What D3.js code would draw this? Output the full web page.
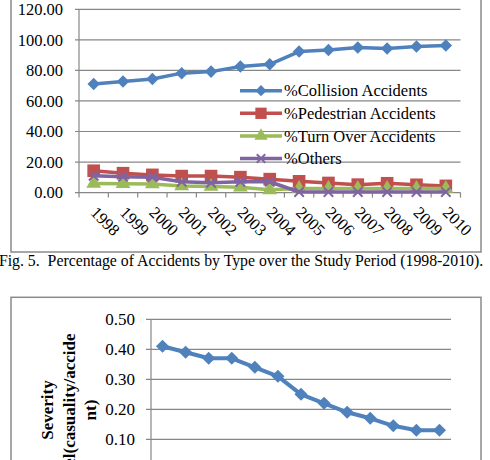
<!DOCTYPE html>
<html>
<head>
<meta charset="utf-8">
<script src="https://cdn.jsdelivr.net/npm/d3@7"></script>
<style>
  body { margin: 0; background: #fff; }
  svg { display: block; font-family: "Liberation Serif", "Times New Roman", serif; }
</style>
</head>
<body>
<div id="chart"></div>
<script>
// top chart: accident type shares (%)
const years = ["1998", "1999", "2000", "2001", "2002", "2003", "2004", "2005", "2006", "2007", "2008", "2009", "2010"];
const collision = [71.1, 72.7, 74.4, 78.2, 79.2, 82.6, 84.0, 92.3, 93.4, 95.0, 94.3, 95.6, 96.3];
const pedestrian = [14.3, 12.7, 11.6, 10.8, 10.8, 10.1, 8.8, 7.4, 6.3, 5.2, 6.1, 5.1, 4.4];
const turnOver = [6.0, 5.8, 5.6, 4.4, 4.0, 3.5, 1.8, 2.7, 2.7, 2.7, 2.7, 2.7, 2.7];
const others = [11.0, 10.4, 10.0, 7.1, 6.4, 7.1, 7.1, 0.4, 0.4, 0.4, 0.4, 0.4, 0.4];
const seriesNames = ["%Collision Accidents", "%Pedestrian Accidents", "%Turn Over Accidents", "%Others"];
const topTicks = [0, 20, 40, 60, 80, 100, 120];

// bottom chart: severity level
const severity = [0.41, 0.39, 0.37, 0.37, 0.34, 0.31, 0.25, 0.22, 0.19, 0.17, 0.145, 0.13, 0.13];
const bottomTicks = [0, 0.1, 0.2, 0.3, 0.4, 0.5];
const severityLabel = ["Severity", "level(casuality/accide", "nt)"];

const caption = "Fig. 5.  Percentage of Accidents by Type over the Study Period (1998-2010).";

const colors = ["#4f81bd", "#c0504d", "#9bbb59", "#8064a2"];
const symbols = [d3.symbolDiamond2, d3.symbolSquare, d3.symbolTriangle, d3.symbolX];
const markerSize = [100, 160, 95, 60];
const gridColor = "#878787";

const svg = d3.select("#chart").append("svg")
  .attr("width", 490)
  .attr("height", 460);

// ---------- top chart ----------
svg.append("rect")
  .attr("x", 11).attr("y", -10)
  .attr("width", 470).attr("height", 262)
  .attr("fill", "none")
  .attr("stroke", "#8a8a8a")
  .attr("stroke-width", 1.5);

const x1 = d3.scaleBand().domain(years).range([79, 460.5]);
const y1 = d3.scaleLinear().domain([0, 120]).range([192.6, 9.3]);

const topG = svg.append("g");

topG.selectAll(".grid1")
  .data(topTicks.slice(1))
  .enter().append("line")
  .attr("x1", 75).attr("x2", 460.5)
  .attr("y1", d => y1(d)).attr("y2", d => y1(d))
  .attr("stroke", gridColor)
  .attr("stroke-width", 1.2);

topG.selectAll(".ylab1")
  .data(topTicks)
  .enter().append("text")
  .attr("x", 63)
  .attr("y", d => y1(d))
  .attr("dy", "0.35em")
  .attr("text-anchor", "end")
  .attr("font-size", 16.5)
  .text(d => d.toFixed(2));

// y axis line
topG.append("line")
  .attr("x1", 79).attr("x2", 79)
  .attr("y1", y1(120)).attr("y2", y1(0))
  .attr("stroke", gridColor).attr("stroke-width", 1.2);

// x axis line + ticks
topG.append("line")
  .attr("x1", 75).attr("x2", 460.5)
  .attr("y1", y1(0)).attr("y2", y1(0))
  .attr("stroke", gridColor).attr("stroke-width", 1.2);

topG.selectAll(".xtick1")
  .data(years.concat(["end"]))
  .enter().append("line")
  .attr("x1", (d, i) => 79 + i * x1.step())
  .attr("x2", (d, i) => 79 + i * x1.step())
  .attr("y1", y1(0)).attr("y2", y1(0) + 5)
  .attr("stroke", gridColor).attr("stroke-width", 1.2);

topG.selectAll(".xlab1")
  .data(years)
  .enter().append("text")
  .attr("transform", d => `translate(${x1(d) + x1.bandwidth() / 2 - 4},${y1(0) + 21}) rotate(45)`)
  .attr("font-size", 16.5)
  .text(d => d);

const seriesData = [collision, pedestrian, turnOver, others];
const line1 = d3.line()
  .x((d, i) => x1(years[i]) + x1.bandwidth() / 2)
  .y(d => y1(d));

// excel draws the first series first, later ones on top
[0, 1, 2, 3].forEach(s => {
  const g = topG.append("g");
  g.append("path")
    .datum(seriesData[s])
    .attr("d", line1)
    .attr("fill", "none")
    .attr("stroke", colors[s])
    .attr("stroke-width", 3.5)
    .attr("stroke-linejoin", "round");
  g.selectAll("path.m")
    .data(seriesData[s])
    .enter().append("path")
    .attr("class", "m")
    .attr("transform", (d, i) => `translate(${x1(years[i]) + x1.bandwidth() / 2},${y1(d)})`)
    .attr("d", d3.symbol().type(symbols[s]).size(markerSize[s]))
    .attr("fill", s === 3 ? "none" : colors[s])
    .attr("stroke", colors[s])
    .attr("stroke-width", s === 3 ? 2 : 0);
});

// legend (no background, gridlines show through)
const legend = topG.append("g");
seriesNames.forEach((name, s) => {
  const ly = 90.7 + s * 22.6;
  legend.append("line")
    .attr("x1", 240).attr("x2", 282)
    .attr("y1", ly).attr("y2", ly)
    .attr("stroke", colors[s]).attr("stroke-width", 3.5);
  legend.append("path")
    .attr("transform", `translate(261,${ly})`)
    .attr("d", d3.symbol().type(symbols[s]).size(markerSize[s] * 0.8))
    .attr("fill", s === 3 ? "none" : colors[s])
    .attr("stroke", colors[s])
    .attr("stroke-width", s === 3 ? 2 : 0);
  legend.append("text")
    .attr("x", 284)
    .attr("y", ly)
    .attr("dy", "0.35em")
    .attr("font-size", 16.5)
    .text(name);
});

// caption
svg.append("text")
  .attr("x", 241)
  .attr("y", 266)
  .attr("text-anchor", "middle")
  .attr("font-size", 15.8)
  .style("white-space", "pre")
  .text(caption);

// ---------- bottom chart ----------
svg.append("rect")
  .attr("x", 11).attr("y", 297.3)
  .attr("width", 470).attr("height", 200)
  .attr("fill", "none")
  .attr("stroke", "#8a8a8a")
  .attr("stroke-width", 1.5);

const x2 = d3.scaleBand().domain(years).range([151, 451]);
const y2 = d3.scaleLinear().domain([0, 0.5]).range([469.3, 319.3]);

const bot = svg.append("g");

bot.selectAll(".grid2")
  .data(bottomTicks.slice(1))
  .enter().append("line")
  .attr("x1", 146).attr("x2", 451)
  .attr("y1", d => y2(d)).attr("y2", d => y2(d))
  .attr("stroke", gridColor)
  .attr("stroke-width", 1.2);

bot.append("line")
  .attr("x1", 151).attr("x2", 151)
  .attr("y1", y2(0.5)).attr("y2", y2(0))
  .attr("stroke", gridColor).attr("stroke-width", 1.2);

bot.selectAll(".ylab2")
  .data(bottomTicks)
  .enter().append("text")
  .attr("x", 135)
  .attr("y", d => y2(d))
  .attr("dy", "0.35em")
  .attr("text-anchor", "end")
  .attr("font-size", 17)
  .text(d => d.toFixed(2));

const ylab = bot.append("text")
  .attr("transform", "translate(53,410) rotate(-90)")
  .attr("text-anchor", "middle")
  .attr("font-size", 17)
  .attr("font-weight", "bold");
severityLabel.forEach((t, i) => {
  ylab.append("tspan")
    .attr("x", 0)
    .attr("y", i * 21.5)
    .text(t);
});

const line2 = d3.line()
  .x((d, i) => x2(years[i]) + x2.bandwidth() / 2)
  .y(d => y2(d));

bot.append("path")
  .datum(severity)
  .attr("d", line2)
  .attr("fill", "none")
  .attr("stroke", colors[0])
  .attr("stroke-width", 4)
  .attr("stroke-linejoin", "round");

bot.selectAll(".m2")
  .data(severity)
  .enter().append("path")
  .attr("transform", (d, i) => `translate(${x2(years[i]) + x2.bandwidth() / 2},${y2(d)})`)
  .attr("d", d3.symbol().type(d3.symbolDiamond2).size(110))
  .attr("fill", colors[0]);
</script>
</body>
</html>
